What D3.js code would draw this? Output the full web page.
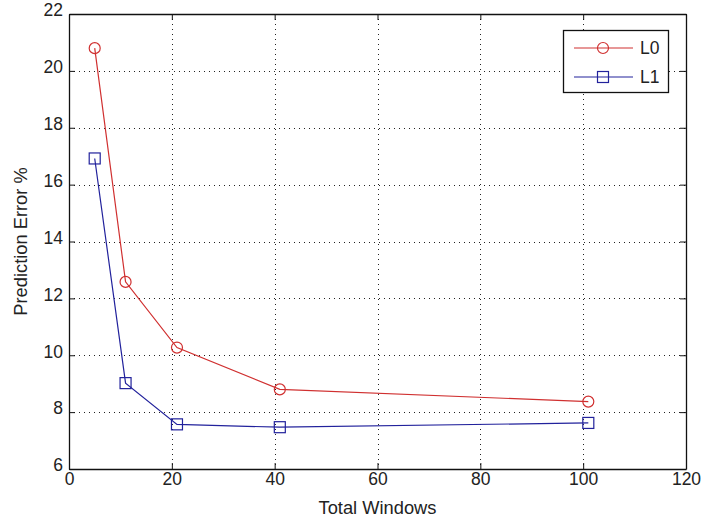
<!DOCTYPE html>
<html><head><meta charset="utf-8">
<script src="https://cdn.jsdelivr.net/npm/d3@7"></script>
<style>body{margin:0;background:#fff}svg{display:block}text{font-family:"Liberation Sans",Arial,sans-serif;fill:#222}</style>
</head><body><svg id="c" width="703" height="521"></svg>
<script>
const xValues = [5, 11, 21, 41, 101];
const seriesNames = ["L0", "L1"];
const l0Values = [20.8, 12.58, 10.27, 8.8, 8.37];
const l1Values = [16.92, 9.02, 7.57, 7.47, 7.62];
const xTicks = [0, 20, 40, 60, 80, 100, 120];
const yTicks = [6, 8, 10, 12, 14, 16, 18, 20, 22];

const svg = d3.select("#c");
const L = 69, R = 686, T = 14, B = 469;
const x = d3.scaleLinear().domain([0, 120]).range([L, R]);
const y = d3.scaleLinear().domain([6, 22]).range([B, T]);
const fs = 17.5, lfs = 18.3;

// grid
const g = svg.append("g");
g.selectAll(".gx").data(xTicks.slice(1, -1)).join("line")
  .attr("x1", d => Math.round(x(d)) + 0.5).attr("x2", d => Math.round(x(d)) + 0.5)
  .attr("y1", T).attr("y2", B)
  .attr("stroke", "#222").attr("stroke-width", 1).attr("stroke-dasharray", "1,4");
g.selectAll(".gy").data(yTicks.slice(1, -1)).join("line")
  .attr("y1", d => Math.round(y(d)) + 0.5).attr("y2", d => Math.round(y(d)) + 0.5)
  .attr("x1", L).attr("x2", R)
  .attr("stroke", "#222").attr("stroke-width", 1).attr("stroke-dasharray", "1,4");

// axes
const tl = 6;
const ax = svg.append("g").attr("transform", `translate(0,${B})`)
  .call(d3.axisBottom(x).tickValues(xTicks).tickSizeInner(-tl).tickSizeOuter(0).tickPadding(6));
const axT = svg.append("g").attr("transform", `translate(0,${T})`)
  .call(d3.axisTop(x).tickValues(xTicks).tickSizeInner(-tl).tickSizeOuter(0).tickFormat(""));
const ay = svg.append("g").attr("transform", `translate(${L},0)`)
  .call(d3.axisLeft(y).tickValues(yTicks).tickSizeInner(-tl).tickSizeOuter(0).tickPadding(6));
const ayR = svg.append("g").attr("transform", `translate(${R},0)`)
  .call(d3.axisRight(y).tickValues(yTicks).tickSizeInner(-tl).tickSizeOuter(0).tickFormat(""));
[ax, axT, ay, ayR].forEach(a => {
  a.selectAll("path").attr("stroke", "#111").attr("stroke-width", 1.3);
  a.selectAll("line").attr("stroke", "#111");
  a.selectAll("text").style("font-family", '"Liberation Sans",Arial,sans-serif').style("font-size", fs + "px").attr("fill", "#222");
});
ay.selectAll("text").attr("dy", "0.1em");
ax.selectAll("text").attr("dy", "0.55em");

// axis labels
svg.append("text").attr("x", (L + R) / 2).attr("y", 514).attr("text-anchor", "middle")
  .style("font-size", lfs + "px").text("Total Windows");
svg.append("text").attr("transform", `translate(27,${(T + B) / 2}) rotate(-90)`).attr("text-anchor", "middle")
  .style("font-size", lfs + "px").text("Prediction Error %");

const red = "#d03030", blue = "#22229c";
const line = d3.line().x((d, i) => x(xValues[i])).y(d => y(d));
svg.append("path").datum(l0Values).attr("d", line).attr("fill", "none").attr("stroke", red).attr("stroke-width", 1.2);
svg.append("path").datum(l1Values).attr("d", line).attr("fill", "none").attr("stroke", blue).attr("stroke-width", 1.2);
svg.selectAll(".m0").data(l0Values).join("circle")
  .attr("cx", (d, i) => x(xValues[i])).attr("cy", d => y(d)).attr("r", 5.5)
  .attr("fill", "none").attr("stroke", red).attr("stroke-width", 1.2);
svg.selectAll(".m1").data(l1Values).join("rect")
  .attr("x", (d, i) => x(xValues[i]) - 5.5).attr("y", d => y(d) - 5.5).attr("width", 11).attr("height", 11)
  .attr("fill", "none").attr("stroke", blue).attr("stroke-width", 1.2);

// legend
const lg = svg.append("g");
lg.append("rect").attr("x", 563.5).attr("y", 30.5).attr("width", 105).attr("height", 62)
  .attr("fill", "#fff").attr("stroke", "#111").attr("stroke-width", 1.3);
const colors = [red, blue];
seriesNames.forEach((n, i) => {
  const yy = 48 + i * 29;
  lg.append("line").attr("x1", 574).attr("x2", 633).attr("y1", yy).attr("y2", yy).attr("stroke", colors[i]).attr("stroke-width", 1.2);
  if (i === 0) lg.append("circle").attr("cx", 603).attr("cy", yy).attr("r", 5.5).attr("fill", "none").attr("stroke", colors[i]).attr("stroke-width", 1.2);
  else lg.append("rect").attr("x", 597.5).attr("y", yy - 5.5).attr("width", 11).attr("height", 11).attr("fill", "none").attr("stroke", colors[i]).attr("stroke-width", 1.2);
  lg.append("text").attr("x", 640).attr("y", yy).attr("dy", "0.35em").style("font-size", fs + "px").text(n);
});
</script></body></html>
